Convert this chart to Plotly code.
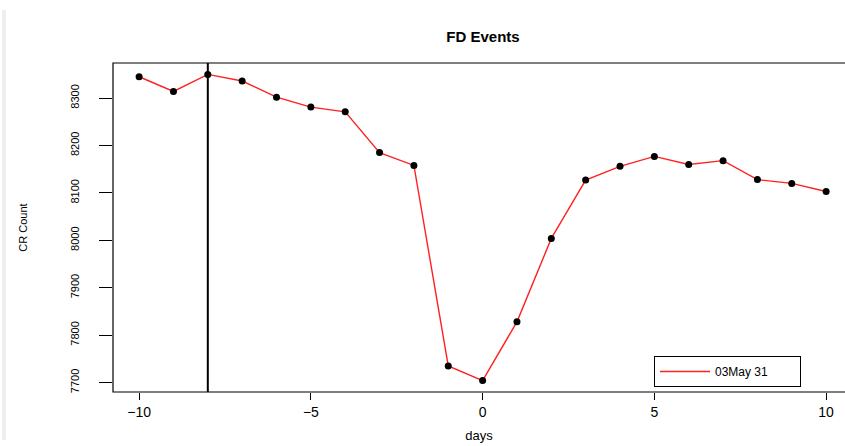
import plotly.graph_objects as go

days = [-10, -9, -8, -7, -6, -5, -4, -3, -2, -1, 0, 1, 2, 3, 4, 5, 6, 7, 8, 9, 10]
cr_count = [8345, 8314, 8350, 8336, 8302, 8281, 8271, 8185, 8158, 7735, 7704,
            7828, 8004, 8127, 8156, 8177, 8160, 8168, 8128, 8120, 8103]
event_day = -8
series_name = "03May 31"
x_ticks = [-10, -5, 0, 5, 10]
x_tick_text = ["\u221210", "\u22125", "0", "5", "10"]
y_ticks = [7700, 7800, 7900, 8000, 8100, 8200, 8300]

FONT = "Liberation Sans, Arial, Helvetica, sans-serif"

fig = go.Figure()
fig.add_trace(go.Scatter(
    x=days, y=cr_count, mode="lines", name=series_name + "\u00a0" * 8,
    line=dict(color="#ff2020", width=1.4), showlegend=True,
))
fig.add_trace(go.Scatter(
    x=days, y=cr_count, mode="markers", showlegend=False,
    marker=dict(color="black", size=7, symbol="circle"),
))

L, T, B = 113, 63, 54
W, H = 845, 446
pw = W - L
ph = H - T - B

# event line
fig.add_shape(type="line", xref="x", yref="paper", x0=event_day, x1=event_day,
              y0=0, y1=1, line=dict(color="black", width=2))
# frame (right side lies beyond the page)
fig.add_shape(type="rect", xref="paper", yref="paper", x0=0, x1=1.02, y0=0, y1=1,
              line=dict(color="black", width=1.2), layer="above")
# light gray strip at page left edge
fig.add_shape(type="rect", xref="paper", yref="paper",
              x0=(2 - L) / pw, x1=(6 - L) / pw,
              y0=(H - B - 440) / ph, y1=(H - B - 10) / ph,
              line=dict(width=0), fillcolor="#eeeeee", layer="below")

fig.update_layout(
    width=W, height=H,
    margin=dict(l=L, r=0, t=T, b=B),
    paper_bgcolor="white", plot_bgcolor="white",
    font=dict(family=FONT, color="black"),
    title=dict(text="<b>FD Events</b>", x=483 / W, xanchor="center",
               y=1 - 37 / H, yanchor="middle", font=dict(size=15, family=FONT)),
    legend=dict(x=(654 - L) / pw, y=(H - B - 356) / ph, xanchor="left", yanchor="top",
                bordercolor="black", borderwidth=1, bgcolor="white",
                font=dict(size=12, family=FONT), itemwidth=50,
                tracegroupgap=0),
    xaxis=dict(range=[-10.76, 10.55], tickvals=x_ticks, ticktext=x_tick_text,
               ticks="outside", ticklen=7, tickcolor="black", tickwidth=1,
               showgrid=False, zeroline=False, showline=False,
               tickfont=dict(size=14, family=FONT),
               title=dict(text="days", font=dict(size=13, family=FONT), standoff=12)),
    yaxis=dict(range=[7680, 8374], tickvals=y_ticks,
               ticks="outside", ticklen=13, tickcolor="black", tickwidth=1,
               showgrid=False, zeroline=False, showline=False,
               tickangle=-90, tickfont=dict(size=11, family=FONT),
               ticklabelstandoff=16,
               title=dict(text="CR Count", font=dict(size=11, family=FONT), standoff=38)),
    showlegend=True,
)

fig.write_html("out.html")
